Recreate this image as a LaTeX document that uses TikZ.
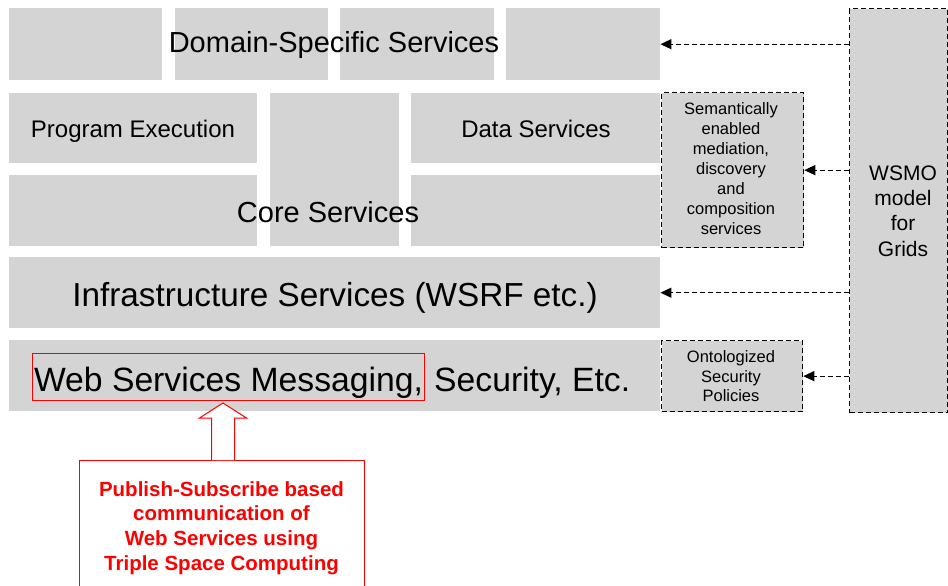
\documentclass[tikz,border=0pt]{standalone}
\usepackage{fontspec}
\setmainfont{Liberation Sans}
\usetikzlibrary{arrows.meta,calc}
\definecolor{boxgray}{RGB}{212,212,212}
\definecolor{pred}{RGB}{255,0,0}
\tikzset{
  gbox/.style={fill=boxgray, draw=none, inner sep=0pt, anchor=north west},
  dbox/.style={fill=boxgray, draw=black, dash pattern=on 5pt off 3pt, line width=1.3pt, inner sep=0pt, anchor=north west},
  darr/.style={-{Triangle[length=11pt,width=10pt]}, dash pattern=on 5pt off 3pt, line width=1.3pt},
  bigtxt/.style={inner sep=0pt, anchor=base, font=\fontsize{29}{34}\selectfont},
  midtxt/.style={inner sep=0pt, anchor=base, font=\fontsize{24}{28}\selectfont},
  hugetxt/.style={inner sep=0pt, font=\fontsize{33.7}{38}\selectfont},
  smalltxt/.style={inner sep=0pt, align=center, font=\fontsize{16.5}{20}\selectfont},
  wsmotxt/.style={inner sep=0pt, align=center, font=\fontsize{21}{25.3}\selectfont},
  redtxt/.style={inner sep=0pt, align=center, text=pred, font=\bfseries\fontsize{20.5}{24.6}\selectfont},
  redbox/.style={draw=pred, line width=1pt},
}
\begin{document}
\begin{tikzpicture}[x=1pt,y=-1pt]
\useasboundingbox (0,0) rectangle (948,586);
\clip (0,0) rectangle (948,586);
\fill[white] (0,0) rectangle (948,586);
% top row
\node[gbox, minimum width=153, minimum height=72] (d1) at (9,8) {};
\node[gbox, minimum width=153, minimum height=72] (d2) at (175,8) {};
\node[gbox, minimum width=154, minimum height=72] (d3) at (340,8) {};
\node[gbox, minimum width=154, minimum height=72] (d4) at (506,8) {};
\node[bigtxt] (domtxt) at (334,53) {Domain-Specific Services};
% core rows
\node[gbox, minimum width=248, minimum height=70] (pe) at (9,93) {};
\node[gbox, minimum width=129, minimum height=153] (core) at (270,93) {};
\node[gbox, minimum width=249, minimum height=70] (ds) at (411,93) {};
\node[gbox, minimum width=248, minimum height=71] (cl) at (9,175) {};
\node[gbox, minimum width=249, minimum height=71] (cr) at (411,175) {};
\node[midtxt] (petxt) at (133,137) {Program Execution};
\node[midtxt] (dstxt) at (536,137) {Data Services};
\node[bigtxt] (coretxt) at (328,222) {Core Services};
% semantic box
\node[dbox, minimum width=142, minimum height=155] (sem) at (661,92) {};
\node[smalltxt] (semtxt) at (731,168.5) {Semantically\\enabled\\mediation,\\discovery\\and\\composition\\services};
% infrastructure
\node[gbox, minimum width=651, minimum height=71] (infra) at (9,257) {};
\node[hugetxt, anchor=base, font=\fontsize{33.3}{38}\selectfont] (infratxt) at (335,306) {Infrastructure Services (WSRF etc.)};
% web services
\node[gbox, minimum width=651, minimum height=71] (web) at (9,340) {};
\node[redbox, hugetxt, anchor=north west, minimum width=392, text height=37.5pt, text depth=9.5pt, inner ysep=0pt, inner xsep=1pt] (wsm) at (32,353) {Web Services Messaging,};
\node[hugetxt, anchor=base west] (sectxt) at ($(wsm.base east)+(9,0)$) {Security, Etc.};
% ontologized
\node[dbox, minimum width=141, minimum height=71] (onto) at (661,340) {};
\node[smalltxt, font=\fontsize{16.5}{19.5}\selectfont] (ontotxt) at (731,376.5) {Ontologized\\Security\\Policies};
% WSMO
\node[dbox, minimum width=98, minimum height=404] (wsmo) at (849,8) {};
\node[wsmotxt] (wsmotxt) at (903,211) {WSMO\\model\\for\\Grids};
% arrows from WSMO
\draw[darr] (wsmo.west |- d4.east) -- (d4.east);
\draw[darr] (wsmo.west |- sem.east) -- (sem.east);
\draw[darr] (wsmo.west |- infra.east) -- (infra.east);
\draw[darr] (wsmo.west |- onto.east) -- (onto.east);
% publish-subscribe box
\node[redbox, fill=white, anchor=north west, minimum width=285, minimum height=150, inner sep=0pt] (pub) at (79,460) {};
\node[redtxt] (pubtxt) at (221.5,528) {Publish-Subscribe based\\communication of\\Web Services using\\Triple Space Computing};
% hollow arrow
\draw[pred, line width=1pt, fill=white, line join=miter]
  let \p1=($(pub.north)+(1,0)$), \p2=($(wsm.south)+(0,2)$) in
  (\x1-11.5pt,\y1) -- (\x1-11.5pt,\y2-15pt) -- (\x1-23.5pt,\y2-15pt) -- (\x1,\y2)
  -- (\x1+23.5pt,\y2-15pt) -- (\x1+11.5pt,\y2-15pt) -- (\x1+11.5pt,\y1);
\end{tikzpicture}
\end{document}
